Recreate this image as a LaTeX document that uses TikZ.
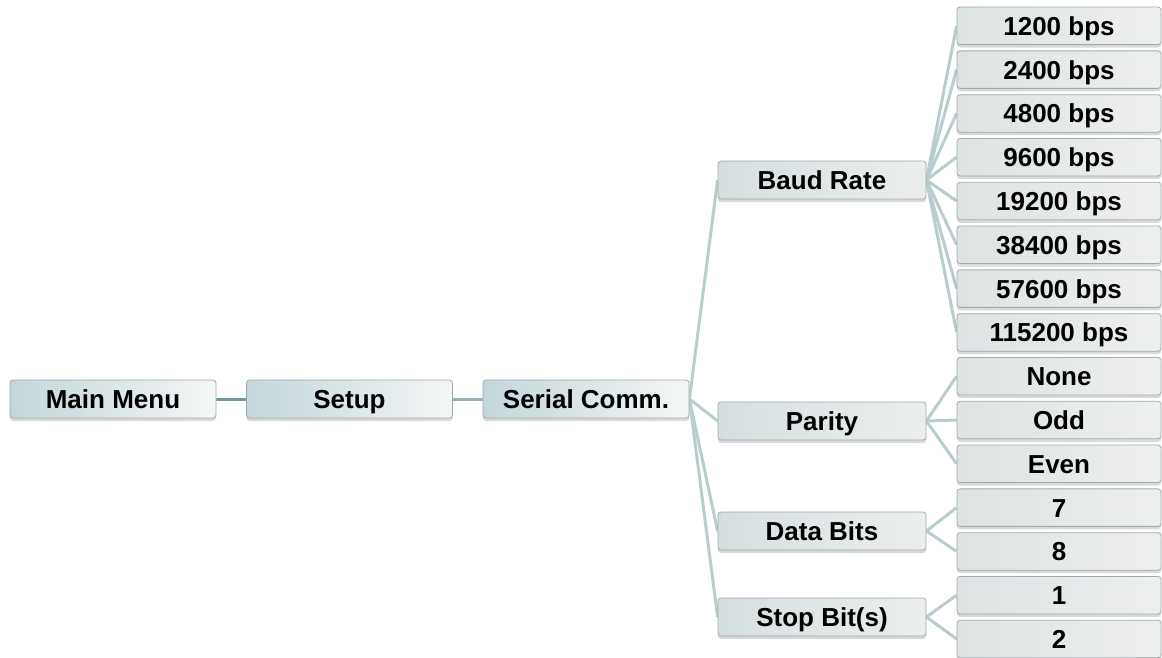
\documentclass[tikz,border=0pt]{standalone}
\usepackage{fontspec}
\setmainfont{Liberation Sans}
\usetikzlibrary{shadows}
\definecolor{linklight}{RGB}{186,205,206}
\definecolor{linkdark}{RGB}{112,152,157}
\definecolor{linkmid}{RGB}{150,180,184}
\definecolor{boxedge}{RGB}{160,170,171}
\definecolor{topleft}{RGB}{196,214,218}
\definecolor{topright}{RGB}{244,246,246}
\definecolor{subleft}{RGB}{214,223,224}
\definecolor{subright}{RGB}{236,238,238}
\definecolor{leafleft}{RGB}{222,227,228}
\definecolor{leafright}{RGB}{238,239,239}
\pgfdeclarelayer{bg}
\pgfsetlayers{bg,main}
\tikzset{
  basebox/.style={draw=boxedge, line width=0.8pt, rounded corners=3pt, inner sep=0pt,
    minimum height=38pt, font=\fontsize{26}{30}\selectfont\bfseries, text=black,
    text height=19pt, text depth=0pt,
    drop shadow={shadow xshift=0pt, shadow yshift=-3pt, opacity=0.25, fill=black!60}},
  topbox/.style={basebox, minimum width=206pt, left color=topleft, right color=topright},
  subbox/.style={basebox, minimum width=208pt, left color=subleft, right color=subright},
  leafbox/.style={basebox, minimum width=204pt, minimum height=37.5pt, left color=leafleft, right color=leafright},
  link/.style={draw=linklight, line width=3pt},
}
\begin{document}
\begin{tikzpicture}[x=1pt,y=-1pt]
\useasboundingbox (0,0) rectangle (1162,657);
% top row
\node[topbox] (main) at (113,399) {Main Menu};
\node[topbox] (setup) at (349.5,399) {Setup};
\node[topbox] (serial) at (586,399) {Serial Comm.};
% level 3
\node[subbox] (baud) at (822,180) {Baud Rate};
\node[subbox] (parity) at (822,421) {Parity};
\node[subbox] (data) at (822,531) {Data Bits};
\node[subbox] (stop) at (822,617) {Stop Bit(s)};
% leaves
\node[leafbox] (b1) at (1059,25.8) {1200 bps};
\node[leafbox] (b2) at (1059,69.6) {2400 bps};
\node[leafbox] (b3) at (1059,113.4) {4800 bps};
\node[leafbox] (b4) at (1059,157.2) {9600 bps};
\node[leafbox] (b5) at (1059,201) {19200 bps};
\node[leafbox] (b6) at (1059,244.8) {38400 bps};
\node[leafbox] (b7) at (1059,288.6) {57600 bps};
\node[leafbox] (b8) at (1059,332.4) {115200 bps};
\node[leafbox] (p1) at (1059,376.2) {None};
\node[leafbox] (p2) at (1059,420) {Odd};
\node[leafbox] (p3) at (1059,463.8) {Even};
\node[leafbox] (d1) at (1059,507.6) {7};
\node[leafbox] (d2) at (1059,551.4) {8};
\node[leafbox] (s1) at (1059,595.2) {1};
\node[leafbox] (s2) at (1059,639) {2};
\begin{pgfonlayer}{bg}
\draw[draw=linkdark, line width=3pt] (main.east) -- (setup.west);
\draw[draw=linkmid, line width=3pt] (setup.east) -- (serial.west);
\foreach \c in {baud,parity,data,stop}
  \draw[link] (serial.east) -- (\c.west);
\foreach \c in {b1,b2,b3,b4,b5,b6,b7,b8}
  \draw[link] (baud.east) -- (\c.west);
\foreach \c in {p1,p2,p3}
  \draw[link] (parity.east) -- (\c.west);
\foreach \c in {d1,d2}
  \draw[link] (data.east) -- (\c.west);
\foreach \c in {s1,s2}
  \draw[link] (stop.east) -- (\c.west);
\end{pgfonlayer}
\end{tikzpicture}
\end{document}
